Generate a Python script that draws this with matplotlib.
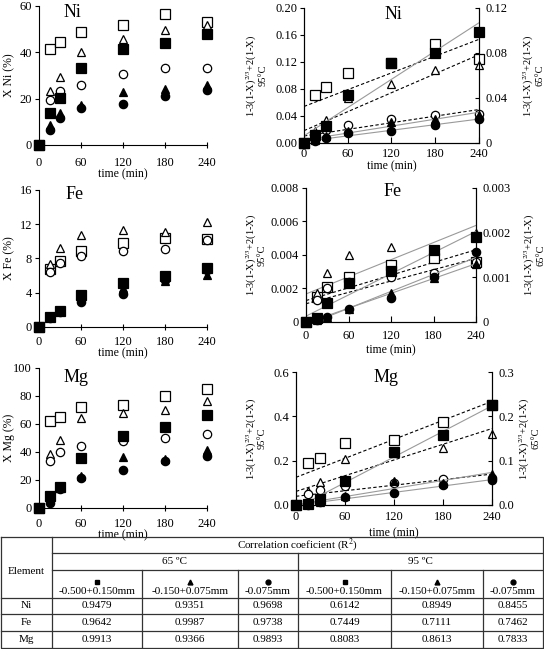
import matplotlib
matplotlib.use("Agg")
import matplotlib.pyplot as plt
import numpy as np

plt.rcParams['font.family'] = ['Liberation Serif', 'DejaVu Serif']
plt.rcParams['mathtext.fontset'] = 'stix'

time = [0, 15, 30, 60, 120, 180, 240]
sizes = ['coarse', 'medium', 'fine']
size_labels = ['-0.500+0.150mm', '-0.150+0.075mm', '-0.075mm']

# conversion X (%) -- open markers 95 C, filled markers 65 C
ni_95_coarse = [0, 41.6, 44.6, 48.8, 51.7, 56.7, 53.0]
ni_95_medium = [0, 23.5, 29.4, 40.3, 45.6, 49.8, 51.8]
ni_95_fine = [0, 19.4, 23.3, 25.9, 30.5, 33.1, 33.2]
ni_65_coarse = [0, 14.0, 20.4, 33.1, 41.4, 43.9, 47.9]
ni_65_medium = [0, 8.6, 13.7, 17.1, 23.0, 24.0, 25.9]
ni_65_fine = [0, 6.5, 11.5, 15.8, 17.7, 21.2, 23.7]

fe_95_coarse = [0, 6.8, 7.7, 8.9, 9.8, 10.4, 10.3]
fe_95_medium = [0, 7.3, 9.2, 10.7, 11.3, 11.1, 12.3]
fe_95_fine = [0, 6.4, 7.5, 8.3, 8.9, 9.1, 10.2]
fe_65_coarse = [0, 1.2, 1.9, 3.7, 5.1, 5.9, 6.9]
fe_65_medium = [0, 1.2, 1.9, 3.3, 4.6, 5.4, 6.1]
fe_65_fine = [0, 1.0, 1.8, 2.9, 3.9, 5.5, 6.6]

mg_95_coarse = [0, 62.2, 65.3, 72.0, 73.7, 80.1, 84.9]
mg_95_medium = [0, 38.5, 48.3, 64.6, 67.9, 70.3, 76.1]
mg_95_fine = [0, 33.5, 39.7, 44.5, 47.8, 50.2, 52.6]
mg_65_coarse = [0, 8.6, 15.1, 35.4, 51.7, 58.1, 66.5]
mg_65_medium = [0, 6.7, 14.4, 23.0, 36.4, 34.9, 41.4]
mg_65_fine = [0, 3.6, 13.9, 21.5, 27.0, 33.5, 37.3]

# kinetic function 1-3(1-X)^(2/3)+2(1-X)
ni_k95_coarse = [0, 0.071, 0.083, 0.103, 0.118, 0.147, 0.124]
ni_k95_medium = [0, 0.018, 0.034, 0.067, 0.088, 0.108, 0.115]
ni_k95_fine = [0, 0.012, 0.019, 0.026, 0.036, 0.042, 0.043]
ni_k65_coarse = [0, 0.0068, 0.0152, 0.0425, 0.071, 0.080, 0.099]
ni_k65_medium = [0, 0.0028, 0.0066, 0.0105, 0.019, 0.021, 0.025]
ni_k65_fine = [0, 0.0015, 0.0046, 0.0088, 0.011, 0.016, 0.021]

fe_k95_coarse = [0, 0.0015, 0.0021, 0.0027, 0.0034, 0.0038, 0.0036]
fe_k95_medium = [0, 0.0017, 0.0029, 0.0040, 0.0045, 0.0043, 0.0053]
fe_k95_fine = [0, 0.0013, 0.0020, 0.0024, 0.0027, 0.0029, 0.0036]
fe_k65_coarse = [0, 0.00008, 0.00042, 0.00088, 0.00113, 0.0016, 0.0019]
fe_k65_medium = [0, 0.00005, 0.00012, 0.0003, 0.00065, 0.00098, 0.0013]
fe_k65_fine = [0, 0.00004, 0.00012, 0.0003, 0.00053, 0.001, 0.00157]

mg_k95_coarse = [0, 0.189, 0.211, 0.279, 0.291, 0.374, 0.451]
mg_k95_medium = [0, 0.065, 0.103, 0.207, 0.236, 0.259, 0.321]
mg_k95_fine = [0, 0.048, 0.068, 0.087, 0.099, 0.118, 0.124]
mg_k65_coarse = [0, 0.0025, 0.013, 0.053, 0.119, 0.159, 0.2245]
mg_k65_medium = [0, 0.0015, 0.0073, 0.0194, 0.0534, 0.0486, 0.071]
mg_k65_fine = [0, 0.0004, 0.0068, 0.0169, 0.0272, 0.0443, 0.0562]

# correlation coefficients (R^2) for the table
elements = ['Ni', 'Fe', 'Mg']
r2_65 = [[0.9479, 0.9351, 0.9698], [0.9642, 0.9987, 0.9738], [0.9913, 0.9366, 0.9893]]
r2_95 = [[0.6142, 0.8949, 0.8455], [0.7449, 0.7111, 0.7462], [0.8083, 0.8613, 0.7833]]

conv = {
    'Ni': {95: [ni_95_coarse, ni_95_medium, ni_95_fine], 65: [ni_65_coarse, ni_65_medium, ni_65_fine]},
    'Fe': {95: [fe_95_coarse, fe_95_medium, fe_95_fine], 65: [fe_65_coarse, fe_65_medium, fe_65_fine]},
    'Mg': {95: [mg_95_coarse, mg_95_medium, mg_95_fine], 65: [mg_65_coarse, mg_65_medium, mg_65_fine]},
}
kin = {
    'Ni': {95: [ni_k95_coarse, ni_k95_medium, ni_k95_fine], 65: [ni_k65_coarse, ni_k65_medium, ni_k65_fine]},
    'Fe': {95: [fe_k95_coarse, fe_k95_medium, fe_k95_fine], 65: [fe_k65_coarse, fe_k65_medium, fe_k65_fine]},
    'Mg': {95: [mg_k95_coarse, mg_k95_medium, mg_k95_fine], 65: [mg_k65_coarse, mg_k65_medium, mg_k65_fine]},
}

markers = {'coarse': 's', 'medium': '^', 'fine': 'o'}
DASH = dict(color='black', lw=0.8, ls=(0, (3, 2)))
GREY = dict(color='#9a9a9a', lw=0.8, ls='-')
fit_styles = {
    'Ni': {95: [DASH, DASH, DASH], 65: [GREY, GREY, GREY]},
    'Fe': {95: [DASH, GREY, DASH], 65: [GREY, GREY, GREY]},
    'Mg': {95: [DASH, DASH, DASH], 65: [GREY, GREY, GREY]},
}

# layout (figure fractions) and per-panel settings
left_pos = {'Ni': [0.0717, 0.7766, 0.309, 0.2142],
            'Fe': [0.0717, 0.4962, 0.309, 0.2111],
            'Mg': [0.0717, 0.2173, 0.309, 0.2157]}
right_pos = {'Ni': [0.5588, 0.7797, 0.3217, 0.2080],
             'Fe': [0.5625, 0.5039, 0.3125, 0.2065],
             'Mg': [0.5441, 0.2219, 0.3603, 0.2049]}
left_y = {'Ni': ([0, 20, 40, 60], ['0', '20', '40', '60']),
          'Fe': ([0, 4, 8, 12, 16], ['0', '4', '8', '12', '16']),
          'Mg': ([0, 20, 40, 60, 80, 100], ['0', '20', '40', '60', '80', '100'])}
right_y95 = {'Ni': ([0, 0.04, 0.08, 0.12, 0.16, 0.20], ['0.00', '0.04', '0.08', '0.12', '0.16', '0.20']),
             'Fe': ([0, 0.002, 0.004, 0.006, 0.008], ['0', '0.002', '0.004', '0.006', '0.008']),
             'Mg': ([0, 0.2, 0.4, 0.6], ['0.0', '0.2', '0.4', '0.6'])}
right_y65 = {'Ni': ([0, 0.04, 0.08, 0.12], ['0', '0.04', '0.08', '0.12']),
             'Fe': ([0, 0.001, 0.002, 0.003], ['0', '0.001', '0.002', '0.003']),
             'Mg': ([0, 0.1, 0.2, 0.3], ['0.0', '0.1', '0.2', '0.3'])}
left_title = {'Ni': (0.20, 0.955), 'Fe': (0.21, 0.97), 'Mg': (0.22, 0.93)}
right_title = {'Ni': (0.51, 0.95), 'Fe': (0.51, 0.97), 'Mg': (0.46, 0.96)}
left_xpad = {'Ni': 6.0, 'Fe': 4.0, 'Mg': 5.0}
right_xpad = {'Ni': 3.5, 'Fe': 6.0, 'Mg': 4.0}
left_xlab = {'Ni': -0.17, 'Fe': -0.145, 'Mg': -0.15}
right_xlab = {'Ni': -0.13, 'Fe': -0.17, 'Mg': -0.165}
right_ylab = {'Ni': (-0.21, 1.245), 'Fe': (-0.23, 1.275), 'Mg': (-0.148, 1.13)}

TICK_FS = 9
LAB_FS = 8.5
kin_label = '1-3(1-X)$^{2/3}$+2(1-X)'


def draw_points(ax, y, size, temp):
    filled = temp == 65
    ax.plot(time, y, ls='none', marker=markers[size], ms=6.5 if size == 'coarse' else 6,
            mfc='black' if filled else 'white', mec='black', mew=0.9,
            clip_on=False, zorder=3)


def draw_fit(ax, y, style):
    slope, icpt = np.polyfit(time, y, 1)
    tt = np.array([0, 240])
    ax.plot(tt, icpt + slope * tt, zorder=2, **style)


fig = plt.figure(figsize=(5.44, 6.49), dpi=100)

for el in elements:
    # conversion vs time
    ax = fig.add_axes(left_pos[el])
    for temp in (95, 65):
        for size, y in zip(sizes, conv[el][temp]):
            draw_points(ax, y, size, temp)
    ticks, labels = left_y[el]
    ax.set_ylim(ticks[0], ticks[-1])
    ax.set_yticks(ticks, labels, fontsize=TICK_FS)
    ax.set_xlim(0, 240)
    ax.set_xticks([0, 60, 120, 180, 240], ['0', '60', '120', '180', '240'], fontsize=TICK_FS)
    ax.spines[['top', 'right']].set_visible(False)
    ax.tick_params(axis='x', direction='inout', length=5, width=0.8, pad=left_xpad[el])
    ax.tick_params(axis='y', direction='out', length=3, width=0.8, pad=2)
    ax.set_xlabel('time (min)', fontsize=LAB_FS)
    ax.xaxis.set_label_coords(0.5, left_xlab[el])
    ax.set_ylabel('X %s (%%)' % el, fontsize=LAB_FS)
    ax.yaxis.set_label_coords(-0.143, 0.5)
    tx, ty = left_title[el]
    ax.text(tx, ty, el, transform=ax.transAxes, ha='center', va='center', fontsize=13)

    # shrinking core kinetic function
    axk = fig.add_axes(right_pos[el])
    axk2 = axk.twinx()
    for i, size in enumerate(sizes):
        draw_fit(axk, kin[el][95][i], fit_styles[el][95][i])
        draw_fit(axk2, kin[el][65][i], fit_styles[el][65][i])
    for i, size in enumerate(sizes):
        draw_points(axk, kin[el][95][i], size, 95)
        draw_points(axk2, kin[el][65][i], size, 65)
    ticks, labels = right_y95[el]
    axk.set_ylim(ticks[0], ticks[-1])
    axk.set_yticks(ticks, labels, fontsize=TICK_FS)
    ticks, labels = right_y65[el]
    axk2.set_ylim(ticks[0], ticks[-1])
    axk2.set_yticks(ticks, labels, fontsize=TICK_FS)
    axk.set_xlim(0, 240)
    axk.set_xticks([0, 60, 120, 180, 240], ['0', '60', '120', '180', '240'], fontsize=TICK_FS)
    for a in (axk, axk2):
        a.spines['top'].set_visible(False)
    axk.tick_params(axis='x', direction='in', length=4, width=0.8, pad=right_xpad[el])
    axk.tick_params(axis='y', direction='out', length=3, width=0.8, pad=2)
    axk2.tick_params(axis='y', direction='in', length=3, width=0.8, pad=5)
    axk.set_xlabel('time (min)', fontsize=LAB_FS)
    axk.xaxis.set_label_coords(0.5, right_xlab[el])
    axk.set_ylabel(kin_label + '\n95°C', fontsize=7.5, linespacing=0.9)
    axk2.set_ylabel(kin_label + '\n65°C', fontsize=7.5, linespacing=0.9)
    lx, rx = right_ylab[el]
    axk.yaxis.set_label_coords(lx, 0.5)
    axk2.yaxis.set_label_coords(rx, 0.5)
    tx, ty = right_title[el]
    axk.text(tx, ty, el, transform=axk.transAxes, ha='center', va='center', fontsize=13)

# ---- table of correlation coefficients (drawn in pixel units) ----
tab = fig.add_axes([0, 0, 1, 1])
tab.set_xlim(0, 544)
tab.set_ylim(649, 0)
tab.axis('off')

col_x = [1, 52, 142, 238, 298, 391, 483, 543]
row_y = [537, 553, 570, 598, 614, 631, 648]
lc = dict(color='#333333', lw=0.9)
tab.plot([col_x[0], col_x[-1], col_x[-1], col_x[0], col_x[0]],
         [row_y[0], row_y[0], row_y[-1], row_y[-1], row_y[0]], **lc)
for yy in row_y[1:3]:
    tab.plot([col_x[1], col_x[-1]], [yy, yy], **lc)
for yy in row_y[3:6]:
    tab.plot([col_x[0], col_x[-1]], [yy, yy], **lc)
tab.plot([col_x[1], col_x[1]], [row_y[0], row_y[-1]], **lc)
tab.plot([col_x[4], col_x[4]], [row_y[1], row_y[-1]], **lc)
for xx in (col_x[2], col_x[3], col_x[5], col_x[6]):
    tab.plot([xx, xx], [row_y[2], row_y[-1]], **lc)

TFS = 8
tab.text((col_x[1] + col_x[-1]) / 2, 545, 'Correlation coeficient (R$^2$)',
         ha='center', va='center', fontsize=TFS)
tab.text((col_x[1] + col_x[4]) / 2, 561.5, '65 ºC', ha='center', va='center', fontsize=TFS)
tab.text((col_x[4] + col_x[-1]) / 2, 561.5, '95 ºC', ha='center', va='center', fontsize=TFS)
tab.text((col_x[0] + col_x[1]) / 2, 572, 'Element', ha='center', va='center', fontsize=TFS)

centers = [(col_x[i] + col_x[i + 1]) / 2 for i in range(1, 7)]
for j, cx in enumerate(centers):
    size = sizes[j % 3]
    tab.plot([cx], [582], ls='none', marker=markers[size], ms=3.5, color='black')
    tab.text(cx, 592, size_labels[j % 3], ha='center', va='center', fontsize=TFS)

row_centers = [(row_y[i] + row_y[i + 1]) / 2 for i in range(3, 6)]
for r, el in enumerate(elements):
    cy = row_centers[r]
    tab.text((col_x[0] + col_x[1]) / 2, cy, el, ha='center', va='center', fontsize=TFS)
    vals = r2_65[r] + r2_95[r]
    for cx, v in zip(centers, vals):
        tab.text(cx, cy, '%.4f' % v, ha='center', va='center', fontsize=TFS)

fig.savefig('out.png', dpi=100)
